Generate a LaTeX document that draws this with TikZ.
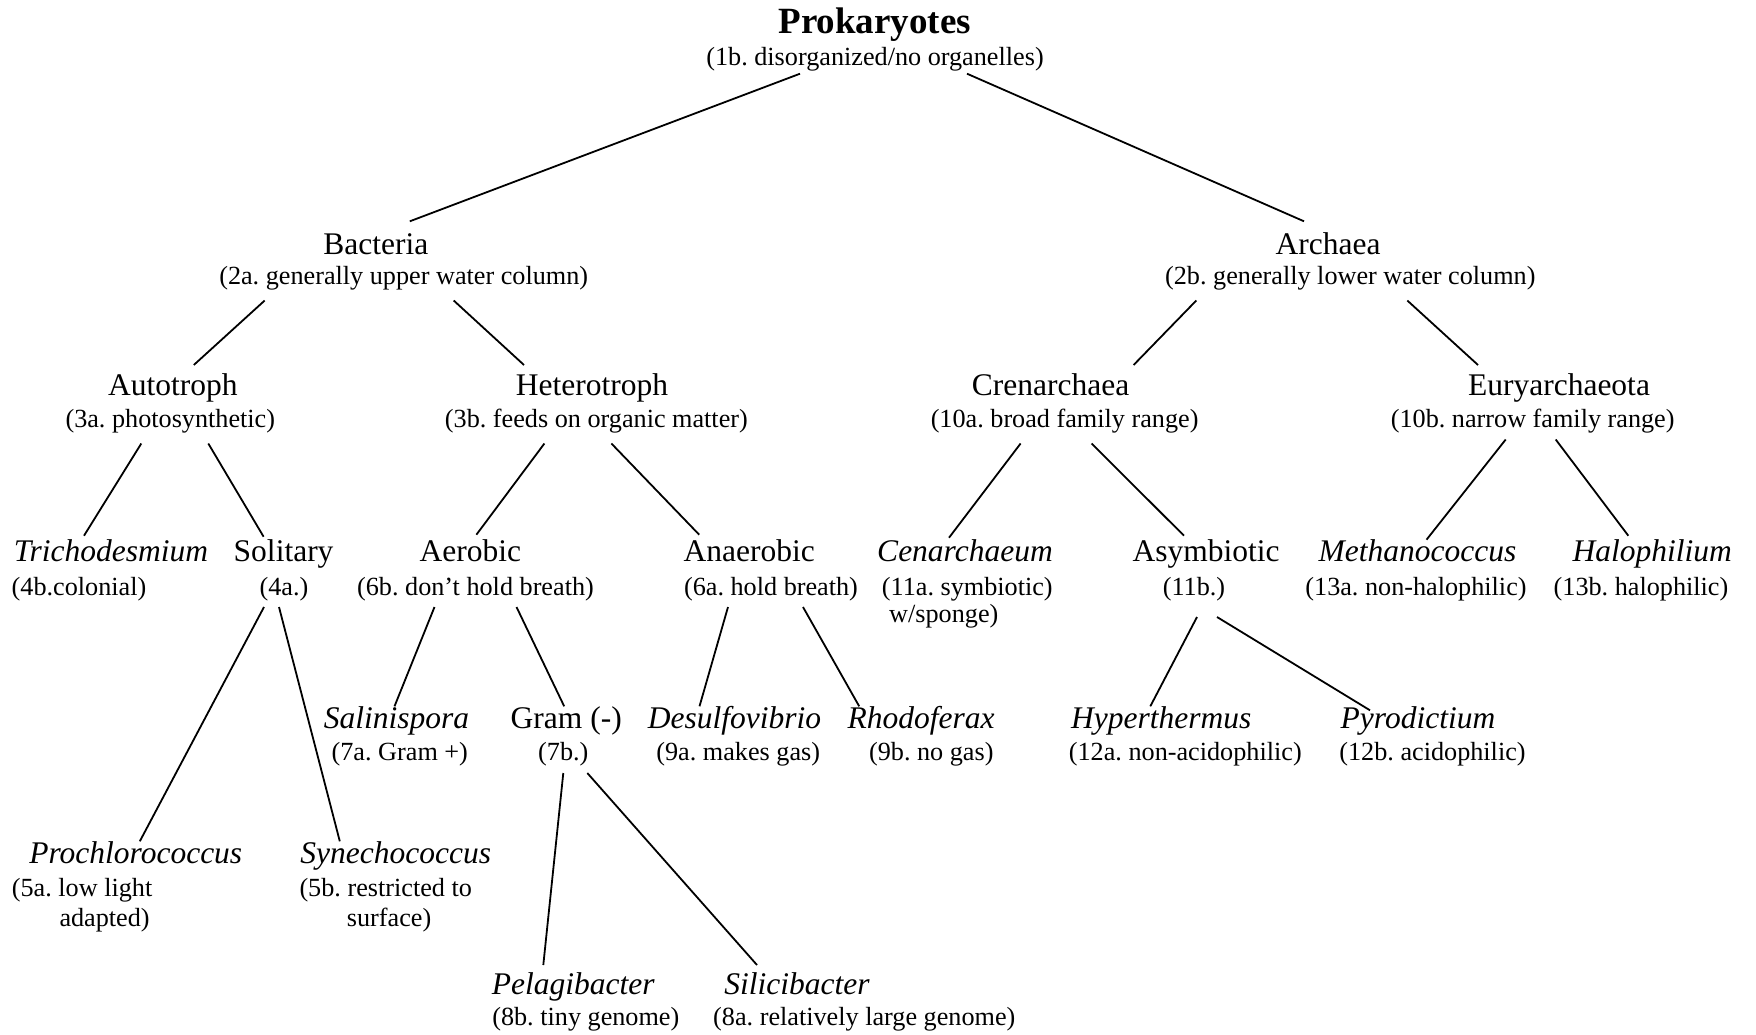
\documentclass[tikz,border=0pt]{standalone}
\usepackage{fontspec}
\setmainfont{Liberation Serif}
\usepackage{tikz}
\frenchspacing
\tikzset{taxon/.style={font=\fontsize{31.5}{36}\selectfont, inner sep=0pt, anchor=base},
        genus/.style={font=\fontsize{31.5}{36}\selectfont\itshape, inner sep=0pt, anchor=base},
        root/.style={font=\fontsize{37}{42}\selectfont\bfseries, inner sep=0pt, anchor=base},
        note/.style={font=\fontsize{26.2}{30}\selectfont, inner sep=0pt, anchor=base},
        notel/.style={note, anchor=base west},
        branch/.style={line width=1.8pt}}

\begin{document}
\begin{tikzpicture}[x=1pt, y=-1pt]
    \useasboundingbox (0,0) rectangle (1756,1034);

    % Top
    \node[root] (pro) at (874.7,33.3) {Prokaryotes};
    \node[note] (pro-s) at (875,65.7) {(1b. disorganized/no organelles)};

    % Domains
    \node[taxon] (bac) at (375.8,254.3) {Bacteria};
    \node[note] (bac-s) at (403.7,284.5) {(2a. generally upper water column)};
    \node[taxon] (arc) at (1328,254.3) {Archaea};
    \node[note] (arc-s) at (1350.3,284.5) {(2b. generally lower water column)};

    % Second split
    \node[taxon] (aut) at (172.8,395) {Autotroph};
    \node[note] (aut-s) at (170.3,427.5) {(3a. photosynthetic)};
    \node[taxon] (het) at (592,395) {Heterotroph};
    \node[note] (het-s) at (596.4,427.5) {(3b. feeds on organic matter)};
    \node[taxon] (cre) at (1050.6,395) {Crenarchaea};
    \node[note] (cre-s) at (1064.6,427.5) {(10a. broad family range)};
    \node[taxon] (eur) at (1559,395) {Euryarchaeota};
    \node[note] (eur-s) at (1532.7,427.5) {(10b. narrow family range)};

    % Third split
    \node[genus] (tri) at (111,561.7) {Trichodesmium};
    \node[note] (tri-s) at (79,595) {(4b.colonial)};
    \node[taxon] (sol) at (283.6,561.7) {Solitary};
    \node[note] (sol-s) at (284,595) {(4a.)};
    \node[taxon] (aer) at (470.4,561.7) {Aerobic};
    \node[note] (aer-s) at (475.5,595) {(6b. don't hold breath)};
    \node[taxon] (ana) at (749.2,561.7) {Anaerobic};
    \node[note] (ana-s) at (771,595) {(6a. hold breath)};
    \node[genus] (cen) at (965,561.7) {Cenarchaeum};
    \node[note] (cen-s) at (967.3,595) {(11a. symbiotic)};
    \node[note] (cen-t) at (943.8,622.7) {w/sponge)};
    \node[taxon] (asy) at (1206,561.7) {Asymbiotic};
    \node[note] (asy-s) at (1194,595) {(11b.)};
    \node[genus] (met) at (1417.5,561.7) {Methanococcus};
    \node[note] (met-s) at (1416,595) {(13a. non-halophilic)};
    \node[genus] (hal) at (1652.3,561.7) {Halophilium};
    \node[note] (hal-s) at (1641,595) {(13b. halophilic)};

    % Fourth split
    \node[genus] (sal) at (396.5,728.3) {Salinispora};
    \node[note] (sal-s) at (399.8,760) {(7a. Gram +)};
    \node[taxon] (gra) at (566.2,728.3) {Gram (-)};
    \node[note] (gra-s) at (563.3,760) {(7b.)};
    \node[genus] (des) at (734.5,728.3) {Desulfovibrio};
    \node[note] (des-s) at (738.2,760) {(9a. makes gas)};
    \node[genus] (rho) at (921.2,728.3) {Rhodoferax};
    \node[note] (rho-s) at (931.3,760) {(9b. no gas)};
    \node[genus] (hyp) at (1161.3,728.3) {Hyperthermus};
    \node[note] (hyp-s) at (1185.3,760) {(12a. non-acidophilic)};
    \node[genus] (pyr) at (1418,728.3) {Pyrodictium};
    \node[note] (pyr-s) at (1432.5,760) {(12b. acidophilic)};

    % Cyanobacteria
    \node[genus] (prc) at (135.8,863.3) {Prochlorococcus};
    \node[notel] (prc-s) at (11.7,896) {(5a. low light};
    \node[notel] (prc-t) at (59.3,926.7) {adapted)};
    \node[genus] (syn) at (395.8,863.3) {Synechococcus};
    \node[notel] (syn-s) at (299.3,896) {(5b. restricted to};
    \node[notel] (syn-t) at (346.7,926.7) {surface)};

    % Gram negatives
    \node[genus] (pel) at (573.3,994) {Pelagibacter};
    \node[note] (pel-s) at (585.8,1025) {(8b. tiny genome)};
    \node[genus] (sil) at (797,994) {Silicibacter};
    \node[note] (sil-s) at (864.3,1025) {(8a. relatively large genome)};

    % Branches: parent/xshift/yshift/child/xshift/yshift
    \foreach \p/\px/\py/\c/\cx/\cy in {
      pro-s/-75/-8/bac/34/33, pro-s/92/-8/arc/-24/33,
      bac-s/-139/-16/aut/21/30, bac-s/50/-16/het/-68/30,
      arc-s/-154/-16/cre/83/30, arc-s/57/-16/eur/-81/30,
      aut-s/-29/-16/tri/-27/26, aut-s/38/-16/sol/-20/25,
      het-s/-52/-16/aer/6/27, het-s/15/-16/ana/-50/27,
      cre-s/-44/-16/cen/-16/24, cre-s/27/-16/asy/-22/26,
      eur-s/-27/-12/met/9/22, eur-s/23/-12/hal/-24/26,
      sol-s/-20/-12/prc/4/22, sol-s/-5/-12/syn/-56/22,
      aer-s/-41/-12/sal/-2/22, aer-s/41/-12/gra/-2/22,
      ana-s/-43/-12/des/-35/22, ana-s/32/-12/rho/-62/22,
      asy-s/3/-22/hyp/-11/22, asy-s/23/-22/pyr/-48/18,
      gra-s/0/-13/pel/-30/29, gra-s/24/-13/sil/-40/29}
      \draw[branch] ([xshift=\px,yshift=\py]\p.base) -- ([xshift=\cx,yshift=\cy]\c.base);
\end{tikzpicture}
\end{document}
